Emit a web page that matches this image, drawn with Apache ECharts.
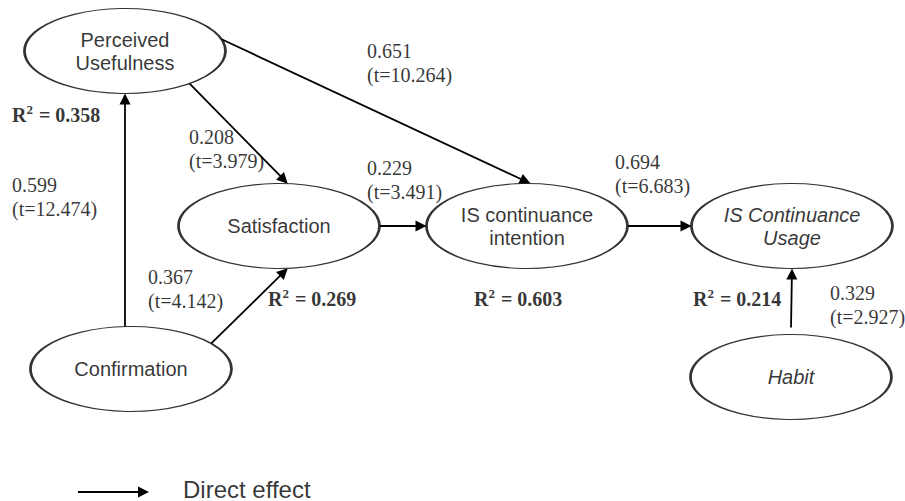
<!DOCTYPE html>
<html>
<head>
<meta charset="utf-8">
<script src="https://cdn.jsdelivr.net/npm/echarts@6/dist/echarts.min.js"></script>
<style>html,body{margin:0;padding:0;background:#fff}#c{width:905px;height:501px}</style>
</head>
<body>
<div id="c"></div>
<script>
// ---- data ----
var nodeNames = ['Perceived\nUsefulness', 'Satisfaction', 'IS continuance\nintention', 'IS Continuance\nUsage', 'Habit', 'Confirmation'];
var nodeItalic = [false, false, false, true, true, false];
var nodeX = [125, 279, 527, 792, 791, 131];
var nodeY = [51, 226, 226, 226, 377, 369];
var edgeFrom = [5, 0, 0, 5, 1, 2, 4];
var edgeTo = [0, 1, 2, 1, 2, 3, 3];
var edgeFromAngle = [-93.4, 50, -16, -37, 0, 0, -90];
var edgeToAngle = [90, -85, -88, 85, 180, 180, 90];
var edgeFromGap = [0, 0, 0, 0, 0, 0, 7];
var pathCoef = ['0.599', '0.208', '0.651', '0.367', '0.229', '0.694', '0.329'];
var pathT = ['12.474', '3.979', '10.264', '4.142', '3.491', '6.683', '2.927'];
var pathLabelX = [12, 189, 367, 148, 367, 615, 830];
var pathLabelY = [197, 149, 63, 289, 180, 174, 305];
var rSquared = ['0.358', '0.269', '0.603', '0.214'];
var rLabelX = [12, 268, 474, 693];
var rLabelY = [114, 298, 298, 298];
var legendText = 'Direct effect';

// ---- build ----
var RX = 100.5, RY = 42.5, ARROW_L = 11, ARROW_W = 9;
function pt(i, deg, gap) {
  var t = deg * Math.PI / 180;
  var x = nodeX[i] + RX * Math.cos(t), y = nodeY[i] + RY * Math.sin(t);
  if (gap) {
    var dx = x - nodeX[i], dy = y - nodeY[i], L = Math.sqrt(dx * dx + dy * dy);
    x += dx / L * gap; y += dy / L * gap;
  }
  return [x, y];
}
function edgeCoords(a, b) {
  var dx = b[0] - a[0], dy = b[1] - a[1], L = Math.sqrt(dx * dx + dy * dy);
  return [a, [b[0] - dx / L * ARROW_L / 2, b[1] - dy / L * ARROW_L / 2]];
}
var edges = edgeFrom.map(function (f, k) {
  return { coords: edgeCoords(pt(f, edgeFromAngle[k], edgeFromGap[k]), pt(edgeTo[k], edgeToAngle[k], 0)) };
});
edges.push({ coords: edgeCoords([78, 492], [149, 492]) });

var nodes = nodeNames.map(function (n, i) {
  return {
    name: n, value: [nodeX[i], nodeY[i]],
    label: { fontStyle: nodeItalic[i] ? 'italic' : 'normal' }
  };
});

var texts = [];
pathCoef.forEach(function (c, i) {
  texts.push({ value: [pathLabelX[i], pathLabelY[i]], txt: c + '\n(t=' + pathT[i] + ')' });
});
rSquared.forEach(function (r, i) {
  texts.push({ value: [rLabelX[i], rLabelY[i]], txt: '{b|R}{s|2}{b| = ' + r + '}' });
});

var serif = '"Liberation Serif", "Times New Roman", serif';
var sans = '"Liberation Sans", Arial, sans-serif';

var chart = echarts.init(document.getElementById('c'), null, { renderer: 'svg' });
chart.setOption({
  animation: false,
  backgroundColor: '#fff',
  grid: { left: 0, right: 0, top: 0, bottom: 0 },
  xAxis: { type: 'value', min: 0, max: 905, show: false },
  yAxis: { type: 'value', min: 0, max: 501, inverse: true, show: false },
  series: [
    {
      type: 'lines', coordinateSystem: 'cartesian2d', z: 2,
      symbol: ['none', 'path://M5,0 L10,11 L0,11 Z'], symbolSize: [ARROW_W, ARROW_L],
      lineStyle: { color: '#000', width: 1.8, opacity: 1, curveness: 0 },
      itemStyle: { color: '#000' },
      data: edges
    },
    {
      type: 'scatter', z: 3, symbol: 'circle', symbolSize: [RX * 2, RY * 2],
      itemStyle: { color: '#fff', borderColor: '#000', borderWidth: 1.8 },
      label: {
        show: true, position: 'inside', color: '#000', fontFamily: sans, fontSize: 20, lineHeight: 23,
        formatter: function (p) { return p.name; }
      },
      emphasis: { disabled: true },
      data: nodes
    },
    {
      type: 'scatter', z: 4, symbolSize: 0,
      label: {
        show: true, position: 'right', distance: 0, color: '#000', fontFamily: serif, fontSize: 20, lineHeight: 24,
        formatter: function (p) { return p.data.txt; },
        rich: {
          b: { fontFamily: serif, fontSize: 20, fontWeight: 'bold', color: '#000', lineHeight: 22, verticalAlign: 'bottom' },
          s: { fontFamily: serif, fontSize: 13, fontWeight: 'bold', color: '#000', lineHeight: 22, verticalAlign: 'top', padding: [0, 1, 0, 0] }
        }
      },
      emphasis: { disabled: true },
      data: texts.map(function (t) { return { value: t.value, txt: t.txt }; })
    },
    {
      type: 'scatter', z: 4, symbolSize: 0,
      label: { show: true, position: 'right', distance: 0, color: '#000', fontFamily: sans, fontSize: 24, lineHeight: 22, formatter: legendText },
      emphasis: { disabled: true },
      data: [[183, 489]]
    }
  ]
});
</script>
</body>
</html>
